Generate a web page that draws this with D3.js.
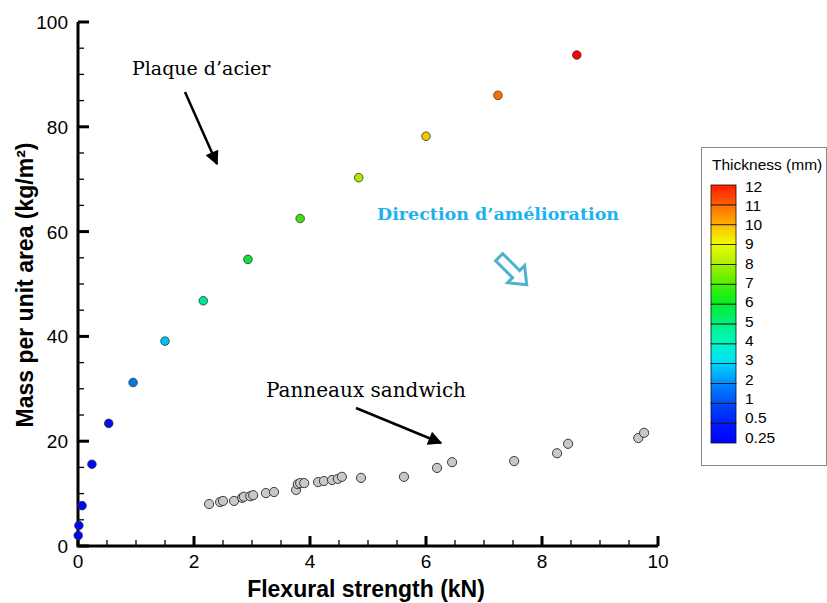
<!DOCTYPE html>
<html>
<head>
<meta charset="utf-8">
<script src="https://cdn.jsdelivr.net/npm/d3@7"></script>
<style>
  body { margin: 0; background: #fff; }
  svg { display: block; }
  .tick-label { font-family: "Liberation Sans", Arial, sans-serif; font-size: 19px; fill: #000; }
  .axis-title { font-family: "Liberation Sans", Arial, sans-serif; font-size: 23px; font-weight: bold; fill: #000; }
  .note { font-family: "DejaVu Serif", "Liberation Serif", serif; fill: #000; }
</style>
</head>
<body>
<svg id="chart"></svg>
<script>
let svgWidth = 827
let svgHeight = 603

// legend levels (mm)
const thickness = [0.25, 0.5, 1, 2, 3, 4, 5, 6, 7, 8, 9, 10, 11, 12]
// steel plate: flexural strength (kN) and mass (kg/m2), same order as thickness
const steelStrength = [0.004, 0.015, 0.07, 0.24, 0.53, 0.95, 1.5, 2.16, 2.93, 3.83, 4.84, 6.0, 7.24, 8.6]
const steelMass = [2.0, 3.9, 7.7, 15.6, 23.4, 31.2, 39.1, 46.8, 54.7, 62.5, 70.3, 78.2, 86.0, 93.7]

// sandwich panels
const sandwichStrength = [2.26, 2.45, 2.50, 2.69, 2.83, 2.86, 2.97, 3.02, 3.24, 3.38, 3.76, 3.79, 3.83, 3.90,
  4.14, 4.24, 4.38, 4.48, 4.55, 4.88, 5.62, 6.19, 6.45, 7.52, 8.26, 8.45, 9.66, 9.76]
const sandwichMass = [8.0, 8.4, 8.6, 8.6, 9.2, 9.4, 9.5, 9.7, 10.1, 10.3, 10.7, 11.8, 12.0, 12.0,
  12.2, 12.4, 12.6, 12.8, 13.2, 13.0, 13.2, 14.9, 16.0, 16.2, 17.7, 19.5, 20.6, 21.6]

const xTicks = [0, 2, 4, 6, 8, 10]
const yTicks = [0, 20, 40, 60, 80, 100]

let margin = {left: 78, top: 22, right: 169, bottom: 57}
let plotW = svgWidth - margin.left - margin.right
let plotH = svgHeight - margin.top - margin.bottom

let svg = d3.select('#chart')
    .attr('width', svgWidth)
    .attr('height', svgHeight)

let g = svg.append('g').attr('transform', `translate(${margin.left},${margin.top})`)

const xScale = d3.scaleLinear().domain([0, 10]).range([0, plotW])
const yScale = d3.scaleLinear().domain([0, 100]).range([plotH, 0])

// colour of the steel points by thickness
const pointColor = d3.scaleLinear()
    .domain([0, 3, 4, 5, 6, 7, 8, 9, 10, 11, 12])
    .range(['#0000ff', '#0010f0', '#0078e8', '#00c0f8', '#00e6a0', '#10e040', '#40e010', '#b0e800', '#f0c800', '#ff6e00', '#ff0000'])

// colour of the legend bands by level index
const bandColor = d3.scaleLinear()
    .domain([0, 1, 2, 3, 4, 5, 6, 7, 8, 9, 10, 11, 12, 13])
    .range(['#0000ff', '#0020ff', '#0050f8', '#0090ff', '#00e0ff', '#00f8c0', '#00f080', '#00f020', '#50f000',
            '#b0f000', '#f0ff00', '#ffb000', '#ff6000', '#ff1000'])

// ---- axes ----
let xMinor = d3.range(0, 10.01, 0.5)
let yMinor = d3.range(0, 100.1, 5)

g.selectAll('.xminor').data(xMinor).enter().append('line')
    .attr('x1', d => xScale(d)).attr('x2', d => xScale(d))
    .attr('y1', plotH).attr('y2', d => plotH - (xTicks.includes(d) ? 10 : 6))
    .attr('stroke', '#000').attr('stroke-width', d => xTicks.includes(d) ? 3 : 1.3)

g.selectAll('.yminor').data(yMinor).enter().append('line')
    .attr('y1', d => yScale(d)).attr('y2', d => yScale(d))
    .attr('x1', 0).attr('x2', d => (yTicks.includes(d) ? 11 : 6))
    .attr('stroke', '#000').attr('stroke-width', d => yTicks.includes(d) ? 3 : 1.3)

g.append('path')
    .attr('d', `M0,${yScale(100)}V${plotH}H${xScale(10)}`)
    .attr('fill', 'none').attr('stroke', '#000').attr('stroke-width', 3)

g.selectAll('.xlab').data(xTicks).enter().append('text')
    .attr('class', 'tick-label')
    .attr('x', d => xScale(d)).attr('y', plotH + 22)
    .attr('text-anchor', 'middle')
    .text(d => d)

g.selectAll('.ylab').data(yTicks).enter().append('text')
    .attr('class', 'tick-label')
    .attr('x', -10).attr('y', d => yScale(d) + 7)
    .attr('text-anchor', 'end')
    .text(d => d)

g.append('text').attr('class', 'axis-title')
    .attr('x', xScale(5) - 2).attr('y', plotH + 51)
    .attr('text-anchor', 'middle')
    .text('Flexural strength (kN)')

g.append('text').attr('class', 'axis-title')
    .attr('transform', `translate(-45,${yScale(50) + 1}) rotate(-90)`)
    .attr('text-anchor', 'middle')
    .text('Mass per unit area (kg/m²)')

// ---- points ----
g.selectAll('.sandwich').data(sandwichStrength).enter().append('circle')
    .attr('cx', (d, i) => xScale(d))
    .attr('cy', (d, i) => yScale(sandwichMass[i]))
    .attr('r', 4.6)
    .attr('fill', '#c8c8c8')
    .attr('stroke', '#3a3a3a').attr('stroke-width', 1)

g.selectAll('.steel').data(steelStrength).enter().append('circle')
    .attr('cx', d => xScale(d))
    .attr('cy', (d, i) => yScale(steelMass[i]))
    .attr('r', 4.3)
    .attr('fill', (d, i) => pointColor(thickness[i]))
    .attr('stroke', '#333').attr('stroke-width', 0.8)

// ---- annotations ----
svg.append('defs').append('marker')
    .attr('id', 'head').attr('viewBox', '0 0 10 10')
    .attr('refX', 9).attr('refY', 5)
    .attr('markerWidth', 18).attr('markerHeight', 14)
    .attr('markerUnits', 'userSpaceOnUse')
    .attr('orient', 'auto')
    .append('path').attr('d', 'M0,0L10,5L0,10Z').attr('fill', '#000')

svg.append('text').attr('class', 'note')
    .attr('x', 132).attr('y', 75).style('font-size', '19px')
    .text('Plaque d’acier')

svg.append('line')
    .attr('x1', 185).attr('y1', 92).attr('x2', 217).attr('y2', 164)
    .attr('stroke', '#000').attr('stroke-width', 2.5)
    .attr('marker-end', 'url(#head)')

svg.append('text').attr('class', 'note')
    .attr('x', 266).attr('y', 397).style('font-size', '20px')
    .text('Panneaux sandwich')

svg.append('line')
    .attr('x1', 356).attr('y1', 408).attr('x2', 441).attr('y2', 443)
    .attr('stroke', '#000').attr('stroke-width', 2.5)
    .attr('marker-end', 'url(#head)')

svg.append('text').attr('class', 'note')
    .attr('x', 377).attr('y', 220)
    .style('font-size', '17.5px').style('font-weight', 'bold').style('fill', '#1eb2ec')
    .text('Direction d’amélioration')

// hollow arrow pointing down-right
svg.append('path')
    .attr('transform', 'translate(514,272) rotate(-45)')
    .attr('d', 'M-5,-21H5V3H12L0,18L-12,3H-5Z')
    .attr('fill', '#fff').attr('stroke', '#4db2cc').attr('stroke-width', 3)
    .attr('stroke-linejoin', 'miter')

// ---- legend ----
let lg = svg.append('g').attr('transform', 'translate(701,147)')
lg.append('rect')
    .attr('x', 0.5).attr('y', 0.5).attr('width', 125).attr('height', 318)
    .attr('fill', '#fff').attr('stroke', '#888').attr('stroke-width', 1)

lg.append('text')
    .attr('x', 11).attr('y', 23)
    .style('font-family', '"Liberation Sans", Arial, sans-serif').style('font-size', '15.5px')
    .text('Thickness (mm)')

const barY = d3.scaleLinear().domain([0, thickness.length - 1]).range([296, 38])
const labelY = d3.scaleLinear().domain([0, thickness.length - 1]).range([290, 39])
let defs = svg.select('defs')
d3.range(thickness.length - 1).forEach(function(i){
    let grad = defs.append('linearGradient').attr('id', 'band' + i)
        .attr('x1', 0).attr('y1', 1).attr('x2', 0).attr('y2', 0)
    grad.append('stop').attr('offset', 0).attr('stop-color', bandColor(i))
    grad.append('stop').attr('offset', 1).attr('stop-color', bandColor(i + 0.85))
})

lg.selectAll('.band').data(d3.range(thickness.length - 1)).enter().append('rect')
    .attr('x', 10).attr('width', 25)
    .attr('y', i => barY(i + 1)).attr('height', i => barY(i) - barY(i + 1))
    .attr('fill', i => `url(#band${i})`)
    .attr('stroke', '#111').attr('stroke-width', 0.8)

lg.selectAll('.lvl').data(thickness).enter().append('text')
    .attr('x', 44).attr('y', (d, i) => labelY(i) + 5.5)
    .style('font-family', '"Liberation Sans", Arial, sans-serif').style('font-size', '15.5px')
    .text(d => d)
</script>
</body>
</html>
